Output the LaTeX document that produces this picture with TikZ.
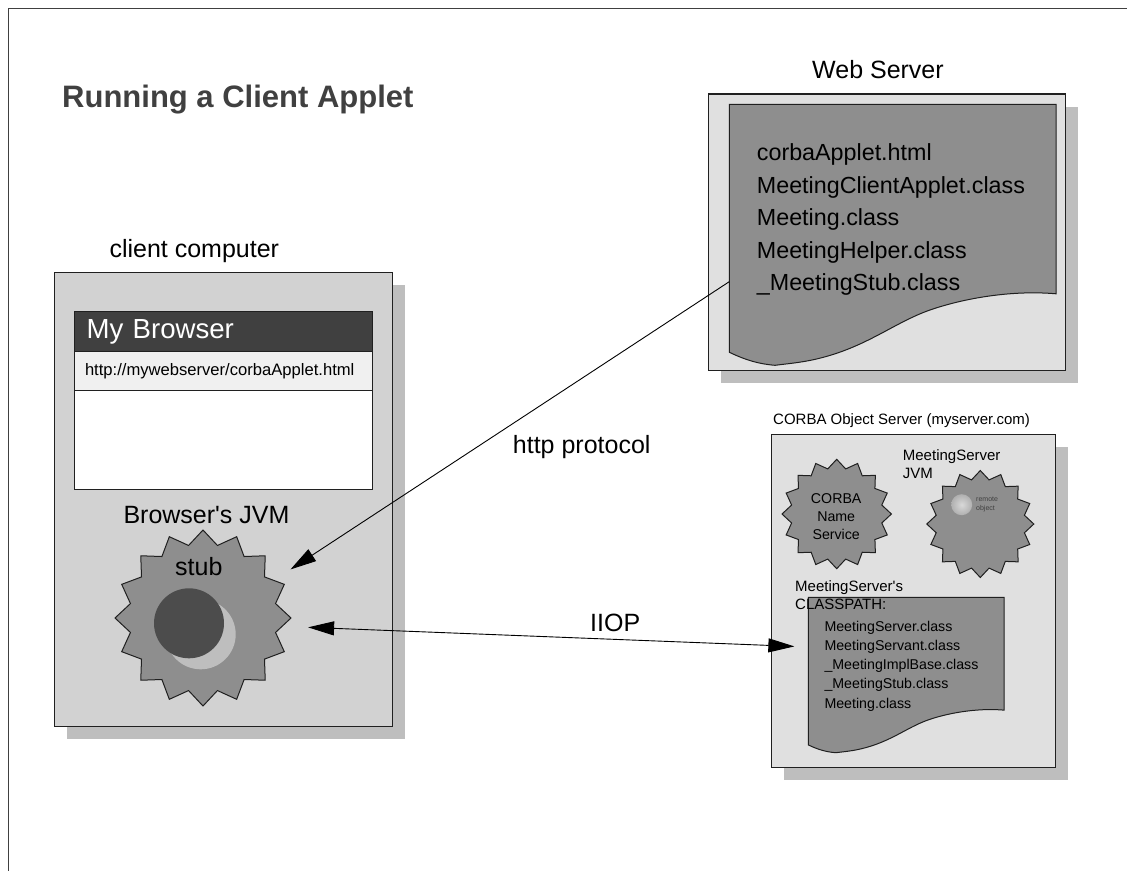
\documentclass[tikz,border=0pt]{standalone}
\usepackage{fontspec}
\setmainfont{Liberation Sans}
\usetikzlibrary{arrows.meta,shapes.geometric,shadows}
\definecolor{ShadowGray}{RGB}{190,190,190}
\definecolor{ClientGray}{RGB}{210,210,210}
\definecolor{ServerGray}{RGB}{224,224,224}
\definecolor{SheetGray}{RGB}{142,142,142}
\definecolor{BarGray}{RGB}{64,64,64}
\definecolor{UrlGray}{RGB}{240,240,240}
\definecolor{LineGray}{RGB}{32,32,32}
\tikzset{
    machine/.style={draw=LineGray, rectangle, line width=1.3pt, outer sep=0pt,
        drop shadow={shadow xshift=12.7pt, shadow yshift=-12.7pt, opacity=1, fill=ShadowGray}},
    pane/.style={draw=LineGray, rectangle, line width=1.1pt, outer sep=0pt, minimum width=297.6pt},
    burst/.style={draw=LineGray, star, star points=16, star point ratio=1.19, line width=1pt,
        fill=SheetGray, inner sep=0pt, outer sep=0pt},
    label/.style={inner sep=0pt, anchor=base west, align=left},
    biglabel/.style={label, font=\fontsize{25}{30}\selectfont},
    smalllabel/.style={label, font=\fontsize{15}{17.6}\selectfont},
    link/.style={>={Triangle[length=26pt,width=14pt]}, line width=0.9pt, black},
    sheet/.pic={
        \draw[draw=LineGray, fill=SheetGray, line width=1pt] (0,0) -- (1,0) -- (1,.726)
            .. controls (.85,.71) and (.7,.75) .. (.61,.79)
            .. controls (.5,.84) and (.42,.93) .. (.27,.975)
            .. controls (.22,.99) and (.17,.995) .. (.14,1)
            .. controls (.09,.995) and (.05,.98) .. (0,.95) -- cycle;
    }
}

\begin{document}
\begin{tikzpicture}[x=1pt, y=-1pt]
\useasboundingbox (0,0) rectangle (1127,871);
\fill[white] (0,0) rectangle (1127,871);
\draw[BarGray, line width=1.3pt] (1127,8.6) -- (8.6,8.6) -- (8.6,871);

% Title
\node[label, text=BarGray, font=\fontsize{31}{36}\selectfont\bfseries] (title) at (62,107) {Running a Client Applet};

% Client computer
\node[biglabel] (clientlabel) at (109.3,257) {client computer};
\node[machine, fill=ClientGray, minimum width=337.6pt, minimum height=454.4pt] (client) at (223.5,499.5) {};
\node[pane, fill=BarGray, minimum height=40pt, text width=273.6pt, inner xsep=12pt, text=white, font=\fontsize{27.6}{32}\selectfont] (titlebar) at (223.5,331.7) {My Browser};
\node[pane, fill=UrlGray, minimum height=39pt, text width=277pt, inner xsep=10.3pt, font=\fontsize{16.6}{20}\selectfont] (urlbar) at (223.5,371.2) {http://mywebserver/corbaApplet.html};
\node[pane, fill=white, minimum height=99pt] (page) at (223.5,440.2) {};
\node[biglabel] (jvmlabel) at (123.3,523.3) {Browser\textquotesingle s JVM};
\node[burst, minimum size=176pt] (stub) at (203,618) {};
\fill[ShadowGray] (200.7,634.3) circle (35);
\fill[black!70] (189,623.3) circle (35);
\node[biglabel] (stublabel) at (175,575) {stub};

% Web server
\node[biglabel] (weblabel) at (812,78) {Web Server};
\node[machine, fill=ServerGray, minimum width=356.6pt, minimum height=276.7pt] (web) at (887,232.35) {};
\node[minimum width=326.7pt, minimum height=261pt, inner sep=0pt, outer sep=0pt] (webdoc) at (892.65,234.8) {};
\pic[x=326.7pt, y=-261pt] at (webdoc.north west) {sheet};
\node[label, font=\fontsize{23.3}{32.5}\selectfont] (webfiles) at (756.7,290.7) {corbaApplet.html\\MeetingClientApplet.class\\Meeting.class\\MeetingHelper.class\\\_MeetingStub.class};

% CORBA object server
\node[smalllabel] (corbalabel) at (773,424) {CORBA Object Server (myserver.com)};
\node[machine, fill=ServerGray, minimum width=283.6pt, minimum height=333pt] (corba) at (913.5,601.2) {};
\node[burst, minimum size=109.4pt] (naming) at (836.7,514) {};
\node[inner sep=0pt, align=center, font=\fontsize{14.2}{18.3}\selectfont] (naminglabel) at (836.2,516.5) {CORBA\\Name\\Service};
\node[smalllabel] (serverjvm) at (902.7,478) {MeetingServer\\JVM};
\node[burst, minimum size=107pt] (serverburst) at (980.3,524) {};
\shade[inner color=white!85!black, outer color=SheetGray!70!white] (961.7,504.7) circle (10.5);
\node[label, text=black!75, font=\fontsize{7}{9}\selectfont] (remotelabel) at (976,510) {remote\\object};
\node[minimum width=195.7pt, minimum height=155.4pt, inner sep=0pt, outer sep=0pt] (classdoc) at (906.2,675) {};
\pic[x=195.7pt, y=-155.4pt] at (classdoc.north west) {sheet};
\node[smalllabel] (classpathlabel) at (795,609) {MeetingServer\textquotesingle s\\CLASSPATH:};
\node[label, font=\fontsize{14.2}{19.2}\selectfont] (classfiles) at (824.3,708) {MeetingServer.class\\MeetingServant.class\\\_MeetingImplBase.class\\\_MeetingStub.class\\Meeting.class};

% Arrows
\draw[link, ->, shorten >=20pt] (webdoc.196.4) -- (stub.28);
\draw[link, <->, shorten <=26pt, shorten >=14pt] (stub.-6.5) -- (classdoc.164.6);
\node[biglabel] (httplabel) at (512.7,453.3) {http protocol};
\node[biglabel] (iioplabel) at (590,631) {IIOP};
\end{tikzpicture}
\end{document}
